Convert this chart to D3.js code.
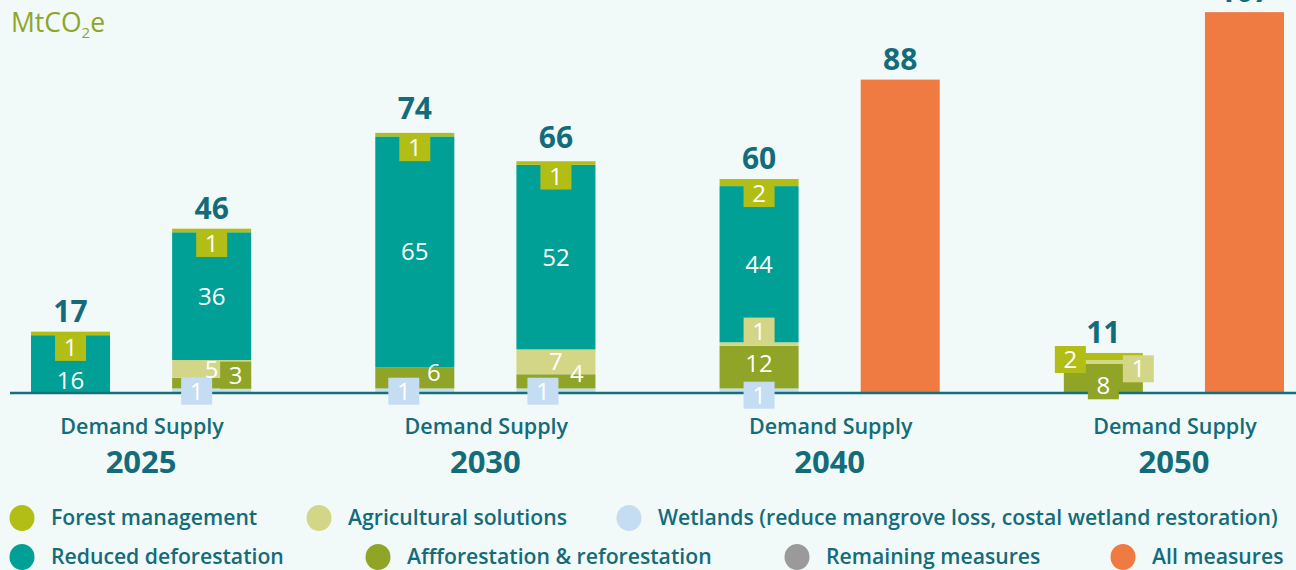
<!DOCTYPE html>
<html>
<head>
<meta charset="utf-8">
<script src="https://cdn.jsdelivr.net/npm/d3@7"></script>
<style>
  html, body { margin: 0; padding: 0; background: #f2faf9; }
  svg { display: block; }
</style>
</head>
<body>
<svg id="chart" width="1296" height="570"></svg>
<script>
// ---- data -------------------------------------------------------------
const years = ["2025", "2030", "2040", "2050"];
const sides = ["Demand", "Supply"];

// one entry per bar: 2025 D, 2025 S, 2030 D, 2030 S, 2040 D, 2040 S, 2050 D, 2050 S
const wetlands      = [0, 1, 1, 1, 1, 0, 0, 0];
const afforestation = [0, 3, 6, 4, 12, 0, 8, 0];
const agricultural  = [0, 5, 0, 7, 1, 0, 1, 0];
const deforestation = [16, 36, 65, 52, 44, 0, 0, 0];
const forestMgmt    = [1, 1, 1, 1, 2, 0, 2, 0];
const remaining     = [0, 0, 0, 0, 0, 0, 0, 0];
const allMeasures   = [0, 0, 0, 0, 0, 88, 0, 107];
const totals        = [17, 46, 74, 66, 60, 88, 11, 107];

const seriesKeys = ["wet", "aff", "agr", "red", "forest", "remain", "all"];
const seriesLabels = {
  forest: "Forest management",
  agr: "Agricultural solutions",
  wet: "Wetlands (reduce mangrove loss, costal wetland restoration)",
  red: "Reduced deforestation",
  aff: "Affforestation & reforestation",
  remain: "Remaining measures",
  all: "All measures"
};

// ---- styling ----------------------------------------------------------
const colors = {
  forest: "#b2be16",
  agr: "#d3d686",
  wet: "#c5ddf2",
  red: "#00a096",
  aff: "#90a428",
  remain: "#9b9a9a",
  all: "#ef7a42"
};
const ink = "#146b79";
const font = "'Open Sans', 'DejaVu Sans', sans-serif";

// how the segment labels sit: box = coloured tag, dx/dy = offset (px)
const labelPlacement = {
  "0-red": { box: false, dx: 0, dy: 17 },
  "0-forest": { box: true, dx: 0, dy: 14 },
  "1-forest": { box: true, dx: 0, dy: 13 },
  "2-forest": { box: true, dx: 0, dy: 13 },
  "3-forest": { box: true, dx: 0, dy: 13 },
  "4-forest": { box: true, dx: 0, dy: 11 },
  "6-forest": { box: true, dx: -33, dy: 3 },
  "1-wet": { box: true, dx: -15, dy: 1 },
  "2-wet": { box: true, dx: -11, dy: 1 },
  "3-wet": { box: true, dx: -13, dy: 1 },
  "4-wet": { box: true, dx: 0, dy: 5 },
  "1-aff": { box: true, dx: 24, dy: -8 },
  "2-aff": { box: false, dx: 19, dy: -5 },
  "3-aff": { box: false, dx: 21, dy: -8 },
  "4-aff": { box: false, dx: 0, dy: -4 },
  "6-aff": { box: true, dx: 0, dy: 8 },
  "4-agr": { box: true, dx: 0, dy: -13 },
  "6-agr": { box: true, dx: 35, dy: 7 }
};

// ---- table ------------------------------------------------------------
const rows = totals.map((t, i) => ({
  year: years[Math.floor(i / 2)],
  side: sides[i % 2],
  idx: i,
  wet: wetlands[i],
  aff: afforestation[i],
  agr: agricultural[i],
  red: deforestation[i],
  forest: forestMgmt[i],
  remain: remaining[i],
  all: allMeasures[i],
  total: t
}));

const stacked = d3.stack().keys(seriesKeys)(rows);

// ---- scales -----------------------------------------------------------
const svg = d3.select("#chart");
const W = 1296;

const x0 = d3.scaleBand().domain(years).range([31, 1284])
  .paddingInner(0.3605).paddingOuter(0);
const x1 = d3.scaleBand().domain(sides).range([0, x0.bandwidth()])
  .paddingInner(0.44).paddingOuter(0);
const y = d3.scaleLinear().domain([0, 100]).range([392, 37]);

const barX = d => x0(d.data.year) + x1(d.data.side);
const barCx = r => x0(r.year) + x1(r.side) + x1.bandwidth() / 2;

// ---- bars -------------------------------------------------------------
const layers = svg.append("g").attr("class", "bars")
  .selectAll("g").data(stacked).join("g")
  .attr("fill", s => colors[s.key]);

layers.selectAll("rect")
  .data(s => s.filter(d => d[1] - d[0] > 0))
  .join("rect")
  .attr("x", barX)
  .attr("width", x1.bandwidth())
  .attr("y", d => y(d[1]))
  .attr("height", d => y(d[0]) - y(d[1]));

// baseline
svg.append("line")
  .attr("x1", 10).attr("x2", W)
  .attr("y1", y(0) + 1).attr("y2", y(0) + 1)
  .attr("stroke", "#16707c").attr("stroke-width", 2.5);

// ---- segment labels ---------------------------------------------------
const segLabels = svg.append("g").attr("class", "seg-labels");
stacked.forEach(s => {
  if (s.key === "all") return;
  s.forEach(d => {
    const v = d[1] - d[0];
    if (v <= 0) return;
    const p = labelPlacement[d.data.idx + "-" + s.key] || { box: false, dx: 0, dy: 0 };
    const cx = barCx(d.data) + p.dx;
    const cy = (y(d[0]) + y(d[1])) / 2 + p.dy;
    if (p.box) {
      segLabels.append("rect")
        .attr("x", cx - 15.5).attr("y", cy - 13.5)
        .attr("width", 31).attr("height", 27)
        .attr("fill", colors[s.key]);
    }
    segLabels.append("text")
      .attr("x", cx).attr("y", cy)
      .attr("dy", "0.36em")
      .attr("text-anchor", "middle")
      .attr("fill", "#ffffff")
      .attr("font-family", font)
      .attr("font-size", 24)
      .text(v);
  });
});

// ---- totals -----------------------------------------------------------
svg.append("g").attr("class", "totals")
  .selectAll("text").data(rows).join("text")
  .attr("x", barCx)
  .attr("y", d => y(d.total) - 10)
  .attr("text-anchor", "middle")
  .attr("fill", ink)
  .attr("font-family", font)
  .attr("font-weight", 700)
  .attr("font-size", 30)
  .text(d => d.total);

// ---- x axis: side names + years ---------------------------------------
svg.append("g").attr("class", "side-names")
  .selectAll("text").data(years).join("text")
  .attr("x", d => x0(d) + x0.bandwidth() / 2 + 1)
  .attr("y", 434)
  .attr("text-anchor", "middle")
  .attr("fill", ink)
  .attr("font-family", font)
  .attr("font-weight", 600)
  .attr("font-size", 21.5)
  .text(sides.join(" "));

const xAxis = svg.append("g")
  .attr("transform", "translate(0,451)")
  .call(d3.axisBottom(x0).tickSize(0).tickPadding(0));
xAxis.select(".domain").remove();
xAxis.selectAll("text")
  .attr("dy", "0.72em")
  .attr("fill", ink)
  .attr("font-family", font)
  .attr("font-weight", 700)
  .attr("font-size", 31);

// ---- unit -------------------------------------------------------------
const unit = svg.append("text")
  .attr("x", 11).attr("y", 32)
  .attr("fill", "#8fa52a")
  .attr("font-family", font)
  .attr("font-size", 26.5);
unit.append("tspan").text("MtCO");
unit.append("tspan").attr("font-size", 15).attr("dy", 6).text("2");
unit.append("tspan").attr("dy", -6).text("e");

// ---- legend -----------------------------------------------------------
const legendLayout = [
  { key: "forest", x: 22, row: 0 },
  { key: "agr", x: 319, row: 0 },
  { key: "wet", x: 629, row: 0 },
  { key: "red", x: 22, row: 1 },
  { key: "aff", x: 378, row: 1 },
  { key: "remain", x: 797, row: 1 },
  { key: "all", x: 1123, row: 1 }
];
const legendRowY = [518, 557];

const li = svg.append("g").attr("class", "legend")
  .selectAll("g").data(legendLayout).join("g")
  .attr("transform", d => `translate(${d.x},${legendRowY[d.row]})`);
li.append("ellipse").attr("rx", 12.5).attr("ry", 13)
  .attr("fill", d => colors[d.key]);
li.append("text")
  .attr("x", 29).attr("dy", "0.35em")
  .attr("fill", ink)
  .attr("font-family", font)
  .attr("font-weight", 600)
  .attr("font-size", 21.2)
  .text(d => seriesLabels[d.key]);
</script>
</body>
</html>
